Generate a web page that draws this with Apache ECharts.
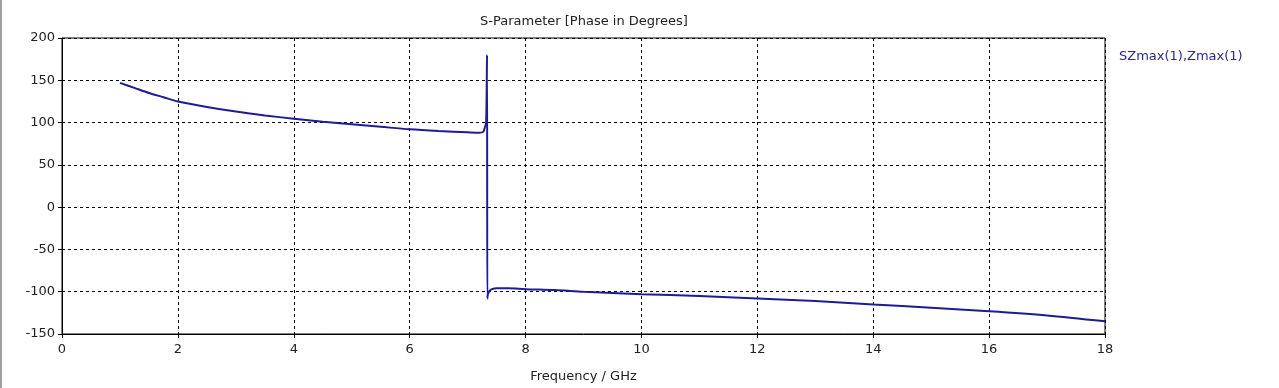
<!DOCTYPE html>
<html>
<head>
<meta charset="utf-8">
<script src="https://cdn.jsdelivr.net/npm/echarts@6/dist/echarts.min.js"></script>
<style>
html,body{margin:0;padding:0;background:#fff;}
#c{width:1279px;height:388px;}
#edge{position:absolute;left:0;top:0;width:2px;height:388px;background:#a0a0a0;}
</style>
</head>
<body>
<div id="c"></div>
<div id="edge"></div>
<script>
var freq = [1.0,1.25,1.5,1.75,2.0,2.5,3.0,3.5,4.0,4.5,5.0,5.5,6.0,6.5,7.0,7.2,7.27,7.3,7.32,7.335,7.34,7.35,7.38,7.42,7.5,7.7,8.0,8.5,9.0,10.0,11.0,12.0,13.0,14.0,15.0,16.0,17.0,18.0];
var phase = [147,141,135,130,125,118.5,113,108.5,104.5,101,98,95,92,90,88.5,88,89,95,100,180,-108,-103,-99,-97,-96,-96,-97,-98,-100,-103,-105,-108,-111,-115,-119,-123,-128,-135];
var xTicks = [0,2,4,6,8,10,12,14,16,18];
var yTicks = [-150,-100,-50,0,50,100,150,200];
var seriesName = 'SZmax(1),Zmax(1)';
var title = 'S-Parameter [Phase in Degrees]';
var xName = 'Frequency / GHz';

var data = freq.map(function(f,i){return [f, phase[i]];});
var font = 'Tahoma, "DejaVu Sans", Verdana, sans-serif';
var chart = echarts.init(document.getElementById('c'));
chart.setOption({
  animation:false,
  backgroundColor:'#fff',
  title:{text:title,left:579,top:10,textAlign:'center',textStyle:{fontFamily:font,fontSize:13,fontWeight:'normal',color:'#222'}},
  legend:{show:true,left:1114,top:45,icon:'none',itemWidth:0,itemGap:0,textStyle:{fontFamily:font,fontSize:13,color:'#2a2a90',padding:[0,0,0,-5]},data:[seriesName]},
  grid:{left:62,top:38,width:1043,height:298,show:true,borderColor:'#000',borderWidth:1,backgroundColor:'#fff'},
  xAxis:{type:'value',min:xTicks[0],max:xTicks[xTicks.length-1],interval:2,
    name:xName,nameLocation:'middle',nameGap:36,nameTextStyle:{fontFamily:font,fontSize:13,color:'#222'},
    axisLine:{show:true,onZero:false,lineStyle:{color:'#000'}},
    axisTick:{show:true,length:4,inside:false,lineStyle:{color:'#000'}},
    axisLabel:{fontFamily:font,fontSize:13,color:'#222',margin:9},
    splitLine:{show:true,lineStyle:{color:'#000',type:[3,3],width:1}}},
  yAxis:{type:'value',min:yTicks[0],max:yTicks[yTicks.length-1],interval:50,
    axisLine:{show:true,onZero:false,lineStyle:{color:'#000'}},
    axisTick:{show:true,length:4,lineStyle:{color:'#000'}},
    axisLabel:{fontFamily:font,fontSize:13,color:'#222',margin:7},
    splitLine:{show:true,lineStyle:{color:'#000',type:[3,3],width:1}}},
  series:[{name:seriesName,type:'line',data:data,smooth:0.3,showSymbol:false,symbol:'none',
    lineStyle:{color:'#1c1c96',width:2},itemStyle:{color:'#1c1c96'}}]
});
</script>
</body>
</html>
